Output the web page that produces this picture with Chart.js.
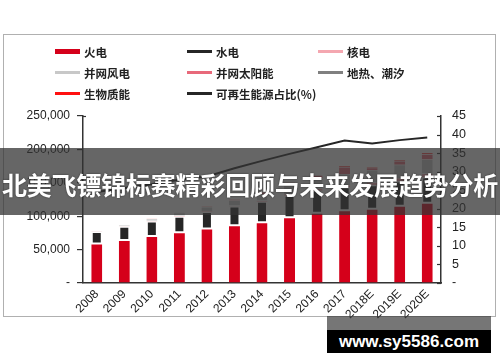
<!DOCTYPE html>
<html>
<head>
<meta charset="utf-8">
<script src="https://cdn.jsdelivr.net/npm/chart.js@4"></script>
<style>
  html, body { margin: 0; padding: 0; background: #fff; }
  #wrap { position: relative; width: 500px; height: 362px; overflow: hidden; background: #fff; }
  #frame { position: absolute; left: 3px; top: 34px; width: 491px; height: 281px; border: 1.5px solid #b0b0b0; }
  canvas { position: absolute; left: 0; top: 0; }
  #legend { position: absolute; left: 55px; top: 41px; display: grid;
            grid-template-columns: 132px 131px 140px; grid-auto-rows: 21px;
            font-family: "Noto Sans CJK SC", "Noto Sans", sans-serif; font-size: 11.5px; font-weight: bold; color: #222; }
  .item { display: flex; align-items: center; white-space: nowrap; }
  .sw { display: inline-block; width: 25px; margin-right: 4px; }
  #banner { position: absolute; left: 0; top: 148px; width: 500px; height: 67px; background: rgba(51,51,51,0.75);
            color: #fff; font-family: "Noto Sans CJK SC", sans-serif; font-weight: bold; font-size: 25px;
            line-height: 67px; text-align: center; white-space: nowrap; letter-spacing: -0.2px;
            text-shadow: 0 0 2px rgba(0,0,0,0.6); padding-top: 3px; box-sizing: border-box; z-index: 5; }
  #wmtop { position: absolute; left: 327px; top: 316px; width: 164px; height: 14px; background: rgba(60,60,60,0.7); z-index: 5; }
  #wm { position: absolute; left: 327px; top: 330px; width: 164px; height: 23px; background: #000; color: #fff;
        font-family: "Liberation Sans", Arial, sans-serif; font-weight: bold; font-size: 17px; line-height: 23px;
        text-align: center; z-index: 5; }
</style>
</head>
<body>
<div id="wrap">
  <div id="frame"></div>
  <canvas id="c" width="500" height="362"></canvas>
  <div id="legend"></div>
  <div id="banner">北美飞镖锦标赛精彩回顾与未来发展趋势分析</div>
  <div id="wmtop"></div>
  <div id="wm">www.sy5586.com</div>
</div>
<script>
// ---- data (installed capacity, 万千瓦; share in %) ----
const categories = ['2008','2009','2010','2011','2012','2013','2014','2015','2016','2017','2018E','2019E','2020E'];
const thermal  = [59000, 64500, 70500, 76000, 81500, 86500, 91000, 98500, 105000, 109000, 111000, 115500, 120000];
const hydro    = [17300, 19600, 21600, 23300, 24900, 28000, 30500, 32000, 33200, 34100, 35200, 36500, 38000];
const nuclear  = [900, 900, 1100, 1250, 1250, 1450, 2000, 2700, 3400, 3600, 4500, 5000, 5800];
const wind     = [850, 1750, 2950, 4600, 6150, 7650, 9650, 13000, 14700, 16400, 18400, 20000, 21000];
const solar    = [0, 0, 30, 200, 350, 1600, 2500, 4200, 5000, 10500, 3500, 5500, 8000];
const geoTidal = [10, 10, 10, 10, 10, 10, 10, 10, 10, 10, 100, 100, 100];
const biomass  = [300, 400, 550, 700, 750, 850, 950, 1000, 700, 1700, 1200, 1700, 1900];
const renewShare = [24.5, 25.6, 26.6, 27.8, 28.7, 30.9, 32.9, 34.8, 36.6, 38.4, 37.6, 38.5, 39.2];
const leftTicks  = [0, 50000, 100000, 150000, 200000, 250000];
const rightTicks = [0, 5, 10, 15, 20, 25, 30, 35, 40, 45];

const seriesNames = ['火电','水电','核电','并网风电','并网太阳能','地热、潮汐','生物质能','可再生能源占比(%)'];
const seriesColors = ['#d5001a','#262626','#f4a7b0','#c8c8c8','#e8697a','#808080','#ff1010','#262626'];
const barSeries = [thermal, hydro, nuclear, wind, solar, geoTidal, biomass];

const datasets = barSeries.map((arr, i) => ({
  type: 'bar',
  label: seriesNames[i],
  data: arr,
  backgroundColor: seriesColors[i],
  borderColor: 'rgba(255,255,255,0.85)',
  borderWidth: i === 0 ? {top: 1, left: 0, right: 0, bottom: 0} : (i === 1 ? {top: 1, bottom: 1, left: 1.5, right: 1.5} : {top: 0.5, bottom: 0, left: 0, right: 0}),
  borderSkipped: false,
  yAxisID: 'y',
  stack: 's',
  order: 1,
  categoryPercentage: 1,
  barPercentage: 0.4
}));
datasets.push({
  type: 'line',
  label: seriesNames[7],
  data: renewShare,
  borderColor: seriesColors[7],
  borderWidth: 2,
  pointRadius: 0,
  tension: 0,
  fill: false,
  yAxisID: 'y1',
  order: 0
});

const rightInwardTicks = {
  id: 'rightInwardTicks',
  afterDraw(chart) {
    const s = chart.scales.y1, ctx = chart.ctx;
    ctx.save();
    ctx.strokeStyle = '#333';
    ctx.lineWidth = 1.2;
    s.ticks.forEach(t => {
      const y = Math.round(s.getPixelForValue(t.value)) + 0.5;
      ctx.beginPath(); ctx.moveTo(s.left - 4, y); ctx.lineTo(s.left, y); ctx.stroke();
    });
    const l = chart.scales.y;
    const yt = Math.round(l.getPixelForValue(250000)) + 0.5;
    ctx.beginPath(); ctx.moveTo(l.right, yt); ctx.lineTo(l.right + 3, yt); ctx.stroke();
    ctx.restore();
  }
};

const fmtLeft = v => v === 0 ? '-' : Number(v).toLocaleString('en-US');
const chart = new Chart(document.getElementById('c'), {
  data: { labels: categories, datasets },
  options: {
    responsive: false,
    animation: false,
    devicePixelRatio: 1,
    layout: { padding: { top: 116, left: 0, right: 0, bottom: 0 } },
    plugins: { legend: { display: false }, tooltip: { enabled: false } },
    scales: {
      x: {
        stacked: true,
        grid: { display: false, drawTicks: false },
        border: { display: true, color: '#333', width: 1.5 },
        ticks: { color: '#222', font: { family: 'Liberation Sans, Arial', size: 12 }, maxRotation: 45, minRotation: 45, padding: 4, autoSkip: false },
        afterFit(s) { s.height = 79; }
      },
      y: {
        stacked: true,
        position: 'left',
        min: 0, max: 250000,
        afterBuildTicks(s) { s.ticks = leftTicks.map(v => ({ value: v })); },
        grid: { display: true, drawOnChartArea: false, drawTicks: true, tickLength: 6, color: '#333', lineWidth: 1.2 },
        border: { display: true, color: '#333', width: 1.5 },
        ticks: { color: '#222', font: { family: 'Liberation Sans, Arial', size: 12 }, padding: 7, callback: v => fmtLeft(v) },
        afterFit(s) { s.width = 83; }
      },
      y1: {
        position: 'right',
        stacked: false,
        min: 0, max: 45,
        afterBuildTicks(s) { s.ticks = rightTicks.map(v => ({ value: v })); },
        grid: { display: false, drawOnChartArea: false, drawTicks: false },
        border: { display: true, color: '#333', width: 1.5 },
        ticks: { color: '#222', font: { family: 'Liberation Sans, Arial', size: 12.5 }, padding: 11, callback: v => v === 0 ? '-' : String(v) },
        afterFit(s) { s.width = 59; }
      }
    }
  },
  plugins: [rightInwardTicks]
});

// HTML legend built from the chart's datasets
const legend = document.getElementById('legend');
chart.data.datasets.forEach((ds, i) => {
  const item = document.createElement('div');
  item.className = 'item';
  const sw = document.createElement('span');
  sw.className = 'sw';
  sw.style.height = (i === 0 ? 5 : 3) + 'px';
  sw.style.background = ds.type === 'line' ? ds.borderColor : ds.backgroundColor;
  const tx = document.createElement('span');
  tx.textContent = ds.label;
  item.appendChild(sw); item.appendChild(tx);
  legend.appendChild(item);
});
</script>
</body>
</html>
